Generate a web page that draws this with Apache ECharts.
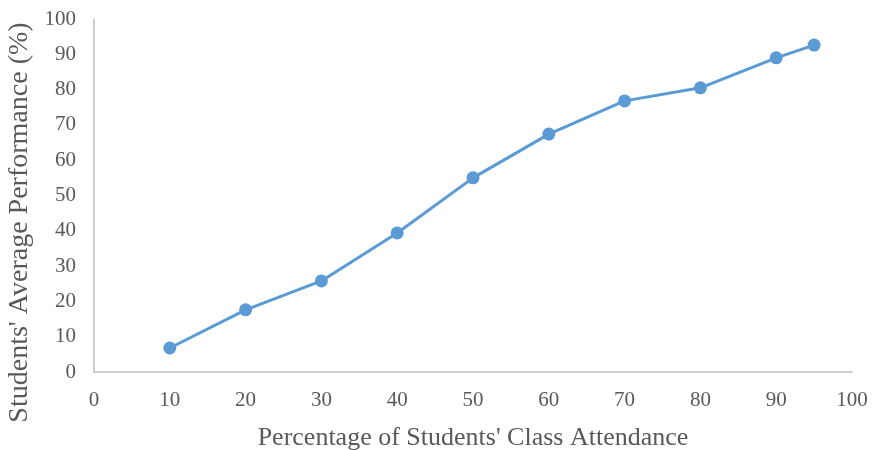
<!DOCTYPE html>
<html><head><meta charset="utf-8">
<script src="https://cdn.jsdelivr.net/npm/echarts@6/dist/echarts.min.js"></script>
<style>html,body{margin:0;padding:0;background:#fff}#c{width:872px;height:450px}</style>
</head><body><div id="c"></div>
<script>
var attendance = [10, 20, 30, 40, 50, 60, 70, 80, 90, 95];
var performance = [6.8, 17.6, 25.8, 39.4, 55.0, 67.4, 76.8, 80.5, 89.0, 92.6];
var xTitle = "Percentage of Students' Class Attendance";
var yTitle = "Students' Average Performance (%)";
var font = "'Liberation Serif', 'Times New Roman', serif";
var chart = echarts.init(document.getElementById('c'));
chart.setOption({
  animation: false,
  grid: {left: 94, right: 20, top: 19, bottom: 78, outerBoundsMode: 'none', containLabel: false},
  xAxis: {
    type: 'value', min: 0, max: 100, interval: 10,
    name: xTitle, nameLocation: 'middle', nameGap: 53,
    nameTextStyle: {fontFamily: font, fontSize: 26, color: '#595959'},
    axisLine: {show: true, lineStyle: {color: '#BFBFBF', width: 1.5}},
    axisTick: {show: false},
    splitLine: {show: false},
    axisLabel: {fontFamily: font, fontSize: 21, color: '#595959', margin: 18}
  },
  yAxis: {
    type: 'value', min: 0, max: 100, interval: 10,
    name: yTitle, nameLocation: 'middle', nameGap: 56,
    nameTextStyle: {fontFamily: font, fontSize: 28, color: '#595959', padding: [0, 54, 0, 0]},
    axisLine: {show: true, lineStyle: {color: '#BFBFBF', width: 1.5}},
    axisTick: {show: false},
    splitLine: {show: false},
    axisLabel: {fontFamily: font, fontSize: 21, color: '#595959', margin: 18}
  },
  series: [{
    type: 'line',
    data: attendance.map(function (x, i) { return [x, performance[i]]; }),
    symbol: 'circle', symbolSize: 13,
    lineStyle: {color: '#5B9BD5', width: 3},
    itemStyle: {color: '#5B9BD5'}
  }]
});
</script></body></html>
